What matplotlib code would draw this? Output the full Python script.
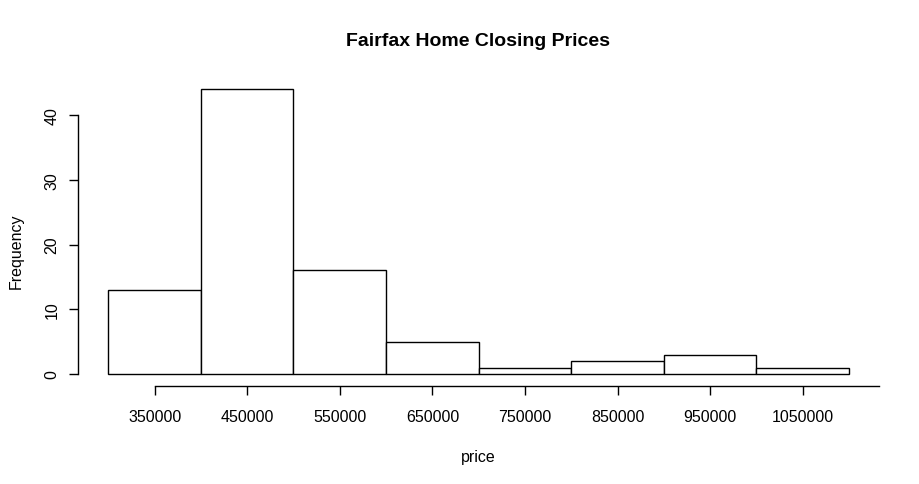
import matplotlib
matplotlib.use("Agg")
import matplotlib.pyplot as plt

bin_edges = [300000, 400000, 500000, 600000, 700000, 800000, 900000, 1000000, 1100000]
counts = [13, 44, 16, 5, 1, 2, 3, 1]
x_ticks = [350000, 450000, 550000, 650000, 750000, 850000, 950000, 1050000]
y_ticks = [0, 10, 20, 30, 40]

plt.rcParams['font.family'] = ['Liberation Sans', 'DejaVu Sans']

W, H = 919, 485
fig = plt.figure(figsize=(W / 100, H / 100), dpi=100)
ax = fig.add_axes([78 / W, 1 - 387 / H, (879 - 78) / W, (387 - 116) / H])

lefts = bin_edges[:-1]
widths = [bin_edges[i + 1] - bin_edges[i] for i in range(len(counts))]
bars = ax.bar(lefts, counts, width=widths, align='edge', facecolor='white',
              edgecolor='black', linewidth=1.0)
for b in bars:
    b.set_clip_on(False)

ax.set_xlim(267300, 1132300)
ax.set_ylim(-1.85, 40)

for s in ['top', 'right']:
    ax.spines[s].set_visible(False)
ax.spines['left'].set_bounds(0, 40)
ax.spines['bottom'].set_bounds(350000, 1132300)
for s in ['left', 'bottom']:
    ax.spines[s].set_linewidth(1.0)

ax.set_xticks(x_ticks)
ax.set_xticklabels([str(v) for v in x_ticks])
ax.set_yticks(y_ticks)
ax.set_yticklabels([str(v) for v in y_ticks], rotation=90, va='center')
ax.tick_params(axis='both', length=6.5, width=1.0, labelsize=11.5)
ax.tick_params(axis='x', pad=10)
ax.tick_params(axis='y', pad=7)

ax.set_xlabel('price', fontsize=11.5, labelpad=18)
ax.set_ylabel('Frequency', fontsize=11.5, labelpad=15)
fig.text(478 / W, 1 - 41 / H, 'Fairfax Home Closing Prices', ha='center',
         va='center', fontsize=14, fontweight='bold')

fig.savefig('out.png', dpi=100, facecolor='white')
